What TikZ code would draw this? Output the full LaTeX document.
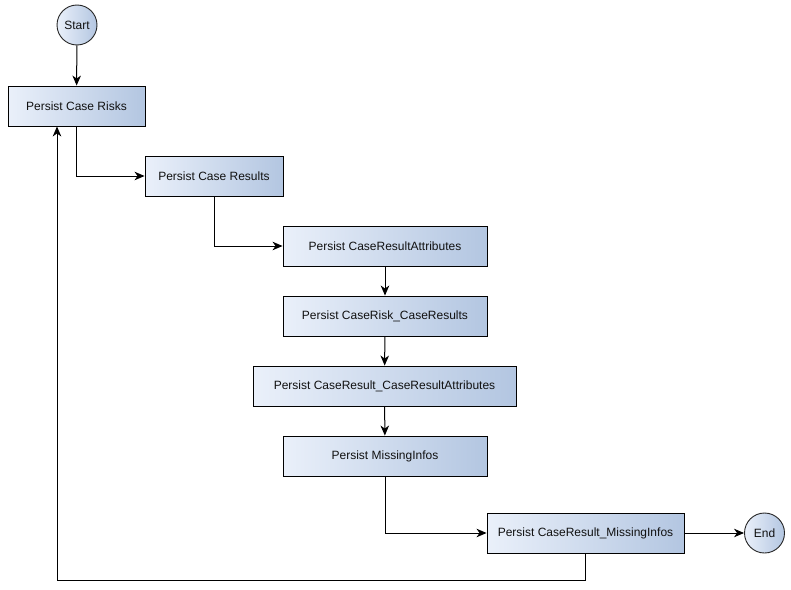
\documentclass[tikz,border=0pt]{standalone}
\usepackage{fontspec}
\setmainfont{Liberation Sans}
\usetikzlibrary{arrows.meta}
\definecolor{boxlight}{HTML}{EAF0FA}
\definecolor{boxdark}{HTML}{B3C6E1}
\definecolor{txtdark}{HTML}{111111}

\begin{document}
\begin{tikzpicture}[x=1pt, y=-1pt,
            step box/.style={draw=black, line width=0.9pt, left color=boxlight, right color=boxdark, minimum width=#1, minimum height=40pt, inner sep=0pt, font=\fontsize{12}{14}\selectfont, text=txtdark},
            terminal/.style={draw=black!85, line width=0.9pt, circle, left color=boxlight, right color=boxdark, minimum size=40pt, inner sep=0pt, font=\fontsize{12}{14}\selectfont, text=txtdark},
            flow/.style={-{Stealth[length=10pt, width=8.5pt, inset=3pt]}, line width=1pt}
        ]
          \useasboundingbox (0,0) rectangle (791,589);

          \node[terminal] (start) at (77,25) {Start};
          \node[step box=137pt] (risks) at (76.5,106) {Persist Case Risks};
          \node[step box=138pt] (results) at (214,176) {Persist Case Results};
          \node[step box=204pt] (attrs) at (385,246) {Persist CaseResultAttributes};
          \node[step box=204pt] (riskres) at (385,316) {Persist CaseRisk\_CaseResults};
          \node[step box=263pt] (resattrs) at (384.5,386) {Persist CaseResult\_CaseResultAttributes};
          \node[step box=204pt] (missing) at (385,456) {Persist MissingInfos};
          \node[step box=197pt] (resmissing) at (585.5,533) {Persist CaseResult\_MissingInfos};
          \node[terminal] (end) at (764.5,533) {End};

          \coordinate (back) at (57,580);

          \draw[flow] (start) -- (risks);
          \draw[flow] (risks.south) |- (results);
          \draw[flow] (results.south) |- (attrs);
          \draw[flow] (attrs) -- (riskres);
          \draw[flow] (riskres) -- (resattrs);
          \draw[flow] (resattrs) -- (missing);
          \draw[flow] (missing.south) |- (resmissing);
          \draw[flow] (resmissing) -- (end);
          \draw[flow] (resmissing.south) |- (back) -- (back |- risks.south);
        \end{tikzpicture}
\end{document}
